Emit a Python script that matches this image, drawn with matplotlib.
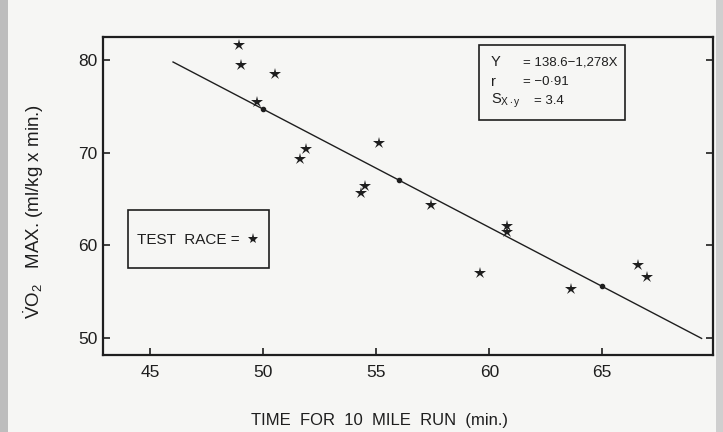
import numpy as np
import matplotlib.pyplot as plt
from matplotlib.patches import Rectangle

plt.rcParams["font.family"] = ["Liberation Sans", "DejaVu Sans"]
plt.rcParams["mathtext.fontset"] = "custom"
plt.rcParams["mathtext.rm"] = "Liberation Sans"
plt.rcParams["mathtext.it"] = "Liberation Sans"

# test race results: time for 10 mile run (min) vs VO2 max (ml/kg x min)
race_time = [48.9, 49.0, 50.5, 49.7, 51.9, 51.6, 55.1, 54.5, 54.3,
             57.4, 60.8, 60.8, 59.6, 63.6, 66.6, 67.0]
vo2_max = [81.7, 79.5, 78.5, 75.5, 70.4, 69.3, 71.1, 66.4, 65.6,
           64.3, 62.1, 61.4, 57.0, 55.2, 57.9, 56.5]

# regression Y = 138.6 - 1.278 X
intercept = 138.6
slope = -1.278
line_x = [46.0, 69.4]
line_dots = [50.0, 56.0, 65.0]

# symbol shown in the legend box
legend_star = (49.56, 60.65)

x_ticks = [45, 50, 55, 60, 65]
y_ticks = [50, 60, 70, 80]

BG = "#f6f6f4"
INK = "#1e1e1e"

fig = plt.figure(figsize=(7.23, 4.32), dpi=100, facecolor=BG)
# scanner edges
fig.patches.append(Rectangle((0, 0), 0.011, 1, transform=fig.transFigure,
                             facecolor="#bdbdbd", edgecolor="none"))
fig.patches.append(Rectangle((0.99, 0), 0.01, 1, transform=fig.transFigure,
                             facecolor="#cfcfcf", edgecolor="none"))

ax = fig.add_axes([0.1425, 0.178, 0.8435, 0.736], facecolor=BG)

lx = np.array(line_x)
ax.plot(lx, intercept + slope * lx, color=INK, lw=1.0)
dx = np.array(line_dots)
ax.plot(dx, intercept + slope * dx, "o", color=INK, ms=3)

ax.plot(race_time, vo2_max, "*", color=INK, ms=9, mew=0)

ax.set_xlim(42.9, 69.9)
ax.set_ylim(48.1, 82.5)
ax.set_xticks(x_ticks)
ax.set_yticks(y_ticks)
ax.tick_params(direction="in", length=5, width=1.2, colors=INK,
               labelsize=12.5, right=True, top=False)
ax.tick_params(axis="x", pad=7)
ax.tick_params(axis="y", pad=4)
for spine in ax.spines.values():
    spine.set_color(INK)
    spine.set_linewidth(1.6)

# equation box
ax.add_patch(Rectangle((0.616, 0.739), 0.24, 0.236, transform=ax.transAxes,
                       facecolor=BG, edgecolor=INK, lw=1.2, zorder=3))
eq_rows = [("Y", "= 138.6\u22121,278X", 0.921, 0.688),
           ("r", "= \u22120\u00b791", 0.858, 0.688),
           (r"S$_{\mathrm{X\bullet y}}$", "= 3.4", 0.799, 0.706)]
for name, val, yy, xv in eq_rows:
    ax.text(0.636, yy, name, transform=ax.transAxes, ha="left", va="center",
            fontsize=10.5, color=INK, zorder=4)
    ax.text(xv, yy, val, transform=ax.transAxes, ha="left", va="center",
            fontsize=9.5, color=INK, zorder=4)

# legend box
ax.add_patch(Rectangle((0.041, 0.274), 0.231, 0.182, transform=ax.transAxes,
                       facecolor=BG, edgecolor=INK, lw=1.2, zorder=3))
ax.text(0.0557, 0.362, "TEST  RACE =", transform=ax.transAxes,
        ha="left", va="center", fontsize=11, color=INK, zorder=4)
ax.plot([legend_star[0]], [legend_star[1]], "*", color=INK, ms=8, mew=0,
        zorder=5)

fig.text(0.046, 0.51, r"$\dot{\mathrm{V}}\mathrm{O}_2$   MAX. (ml/kg x min.)",
         rotation=90, ha="center", va="center", fontsize=13.5, color=INK)
fig.text(0.525, 0.027, "TIME  FOR  10  MILE  RUN  (min.)",
         ha="center", va="center", fontsize=12, color=INK)

fig.savefig("out.png", dpi=100, facecolor=BG)
